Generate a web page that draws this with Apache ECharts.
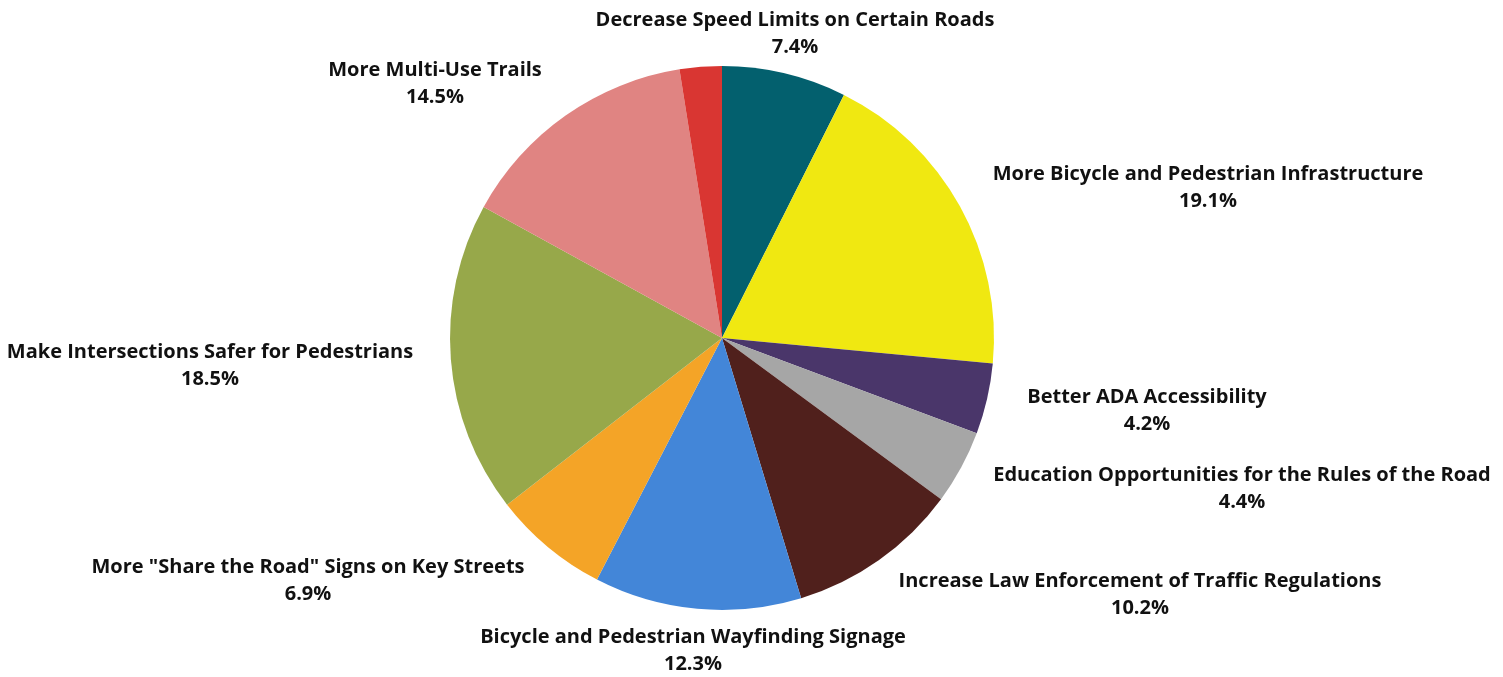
<!DOCTYPE html>
<html>
<head>
<meta charset="utf-8">
<script src="https://cdn.jsdelivr.net/npm/echarts@6/dist/echarts.min.js"></script>
<style>
  html, body { margin: 0; padding: 0; background: #fff; }
  #chart { width: 1503px; height: 677px; }
</style>
</head>
<body>
<div id="chart"></div>
<script>
// categories and shares (%), clockwise from 12 o'clock
const categories = [
  'Decrease Speed Limits on Certain Roads',
  'More Bicycle and Pedestrian Infrastructure',
  'Better ADA Accessibility',
  'Education Opportunities for the Rules of the Road',
  'Increase Law Enforcement of Traffic Regulations',
  'Bicycle and Pedestrian Wayfinding Signage',
  'More "Share the Road" Signs on Key Streets',
  'Make Intersections Safer for Pedestrians',
  'More Multi-Use Trails',
  'Other'
]
const shares = [7.4, 19.1, 4.2, 4.4, 10.2, 12.3, 6.9, 18.5, 14.5, 2.5]
const showLabel = [true, true, true, true, true, true, true, true, true, false]

const colors = ['#03606e', '#f0e811', '#4a366a', '#a6a6a6', '#50201c', '#4386d8', '#f4a427', '#97a84a', '#e08482', '#d93632']

// label anchor points (centre of each label block), px
const labelSpots = [
  [795, 34], [1208, 188], [1147, 411], [1242, 489], [1140, 595],
  [693, 651], [308, 581], [210, 366], [435, 84], [722, 40]
]

const chart = echarts.init(document.getElementById('chart'))
chart.setOption({
  animation: false,
  color: colors,
  series: [
    {
      type: 'pie',
      center: [722, 338],
      radius: 272,
      startAngle: 90,
      clockwise: true,
      data: categories.map((name, i) => ({
        name,
        value: shares[i],
        label: { show: showLabel[i] }
      })),
      label: {
        show: true,
        position: 'inside',
        overflow: 'none',
        formatter: (p) => p.name + '\n' + p.value.toFixed(1) + '%',
        fontFamily: 'Open Sans',
        fontWeight: 'bold',
        fontSize: 20,
        lineHeight: 27,
        color: '#111'
      },
      labelLine: { show: false },
      labelLayout: (params) => {
        const spot = labelSpots[params.dataIndex]
        return { x: spot[0], y: spot[1], align: 'center', verticalAlign: 'middle' }
      },
      itemStyle: { borderWidth: 0 },
      emphasis: { disabled: true }
    }
  ]
})
</script>
</body>
</html>
